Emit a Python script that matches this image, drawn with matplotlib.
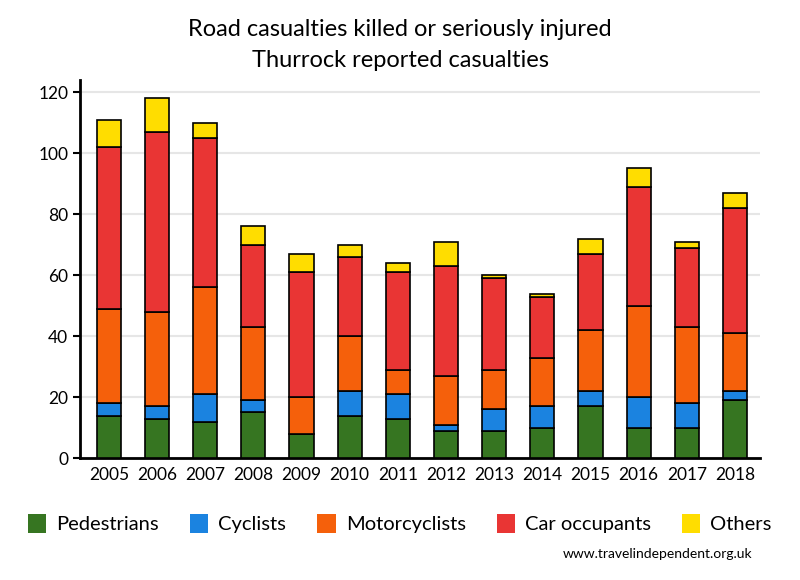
import matplotlib.pyplot as plt
from matplotlib.patches import Patch
import numpy as np

plt.rcParams['font.family'] = ['Lato', 'DejaVu Sans']

years = ['2005', '2006', '2007', '2008', '2009', '2010', '2011',
         '2012', '2013', '2014', '2015', '2016', '2017', '2018']
pedestrians = [14, 13, 12, 15, 8, 14, 13, 9, 9, 10, 17, 10, 10, 19]
cyclists = [4, 4, 9, 4, 0, 8, 8, 2, 7, 7, 5, 10, 8, 3]
motorcyclists = [31, 31, 35, 24, 12, 18, 8, 16, 13, 16, 20, 30, 25, 19]
car_occupants = [53, 59, 49, 27, 41, 26, 32, 36, 30, 20, 25, 39, 26, 41]
others = [9, 11, 5, 6, 6, 4, 3, 8, 1, 1, 5, 6, 2, 5]

series = [pedestrians, cyclists, motorcyclists, car_occupants, others]
names = ['Pedestrians', 'Cyclists', 'Motorcyclists', 'Car occupants', 'Others']
colours = ['#367521', '#1b83e0', '#f5600b', '#e93534', '#ffdd00']

fig = plt.figure(figsize=(8, 5.8), dpi=100)
ax = fig.add_axes([0.1, 0.21, 0.85, 0.652])

x = np.arange(len(years))
bottom = np.zeros(len(years))
for vals, name, col in zip(series, names, colours):
    ax.bar(x, vals, 0.5, bottom=bottom, color=col, edgecolor='black',
           linewidth=1.2, zorder=3)
    bottom += np.array(vals)

ax.set_xlim(-0.6, 13.52)
ax.set_ylim(0, 124)
ax.set_yticks(range(0, 121, 20))
ax.set_xticks(x)
ax.set_xticklabels(years)
ax.yaxis.grid(True, color='#e6e6e6', linewidth=1.5, zorder=0)
ax.tick_params(axis='x', length=0, labelsize=12.5, pad=6)
ax.tick_params(axis='y', length=5, width=1.5, labelsize=12.5)
for s in ['top', 'right']:
    ax.spines[s].set_visible(False)
for s in ['left', 'bottom']:
    ax.spines[s].set_linewidth(2)

fig.text(0.5, 0.95, 'Road casualties killed or seriously injured',
         ha='center', va='center', fontsize=17)
fig.text(0.5, 0.896, 'Thurrock reported casualties',
         ha='center', va='center', fontsize=17)

handles = [Patch(facecolor=c, edgecolor='none') for c in colours]
fig.legend(handles, names, loc='center', bbox_to_anchor=(0.5, 0.097),
           ncol=5, frameon=False, fontsize=14.5, handlelength=0.9,
           handleheight=1.1, columnspacing=1.55, handletextpad=0.5)
fig.text(0.94, 0.045, 'www.travelindependent.org.uk', ha='right',
         va='center', fontsize=10)

fig.savefig('out.png')
